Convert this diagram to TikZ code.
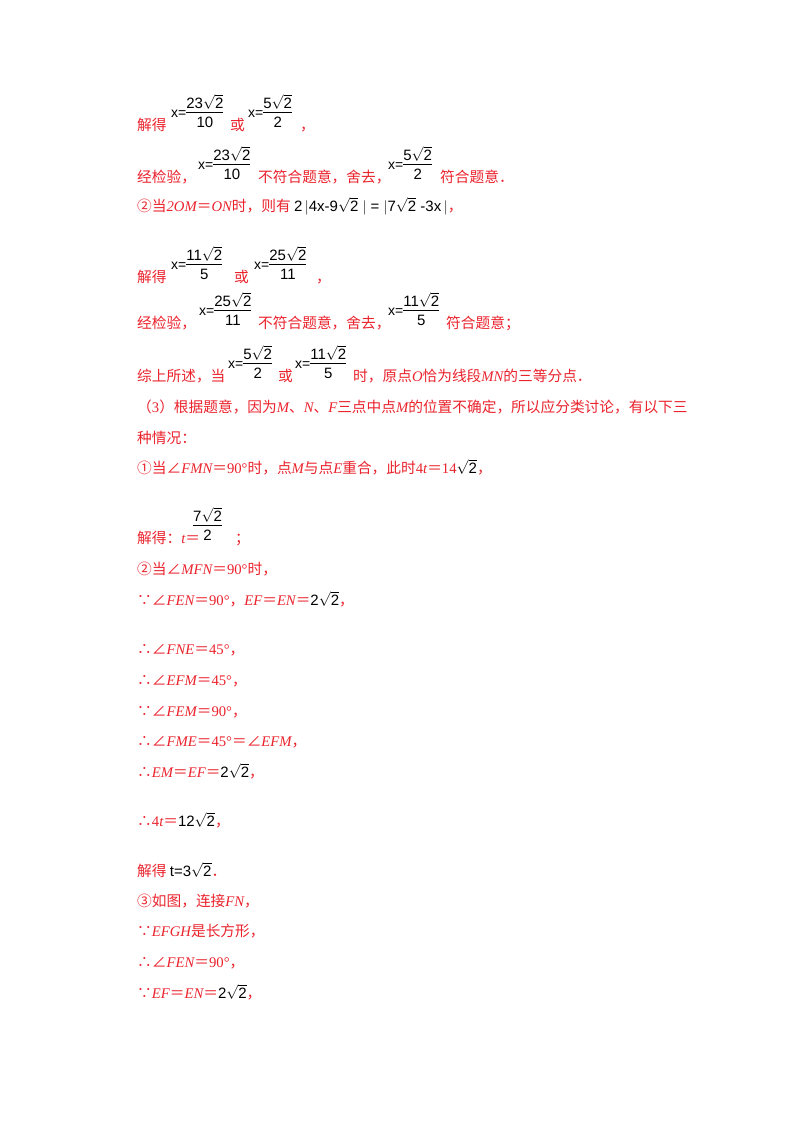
\documentclass[tikz,border=0pt]{standalone}
\usepackage{fontspec}
\setmainfont{Liberation Serif}
\newfontfamily\cjk{Noto Sans CJK SC}
\newfontfamily\mf{Liberation Sans}
\definecolor{rd}{RGB}{235,35,45}
\newcommand{\fr}[2]{$\vcenter{\hbox{\mf\fontsize{15}{17}\selectfont\begin{tabular}{@{}c@{}}#1\\[-1pt]\hline\rule{0pt}{15pt}#2\end{tabular}}}$}
\newcommand{\sq}{$\sqrt{\mbox{\mf 2}}$}
\newcommand{\X}{\mf x=}
\newcommand{\I}[1]{{\rmfamily\itshape #1}}
\newcommand{\N}[1]{{\rmfamily #1}}
\newcommand{\K}[1]{{\color{black}\mf\fontsize{15}{17}\selectfont #1}}
\begin{document}
\begin{tikzpicture}[x=1pt,y=-1pt,
  r/.style={anchor=base west,inner sep=0pt,text=rd,font=\cjk\fontsize{14.7}{17}\selectfont},
  f/.style={anchor=south west,inner sep=0pt,font=\mf\fontsize{14}{16}\selectfont},
  k/.style={anchor=base west,inner sep=0pt,font=\mf\fontsize{15}{17}\selectfont}]
\useasboundingbox (0,0) rectangle (800,1132);
\fill[white] (0,0) rectangle (800,1132);
% line 1
\node[r] (a1) at (137,130) {解得};
\node[f] (a2) at (171,133) {\X\fr{23\sq}{10}};
\node[r] (a3) at (230,130) {或};
\node[f] (a4) at (248,133) {\X\fr{5\sq}{2}};
\node[r] (a5) at (300,130) {，};
% line 2
\node[r] (b1) at (137,182) {经检验，};
\node[f] (b2) at (198,185) {\X\fr{23\sq}{10}};
\node[r] (b3) at (258,182) {不符合题意，舍去，};
\node[f] (b4) at (388,185) {\X\fr{5\sq}{2}};
\node[r] (b5) at (440,182) {符合题意．};
% line 3
\node[r] (c1) at (137,211) {②当\I{2OM}＝\I{ON}时，则有\ \K{2\,$|$4x-9\sq\ $|$ = $|$7\sq\ -3x\,$|$}，};
% line 4
\node[r] (d1) at (137,282) {解得};
\node[f] (d2) at (171,285) {\X\fr{11\sq}{5}};
\node[r] (d3) at (234,282) {或};
\node[f] (d4) at (254,285) {\X\fr{25\sq}{11}};
\node[r] (d5) at (316,282) {，};
% line 5
\node[r] (e1) at (137,328) {经检验，};
\node[f] (e2) at (199,331) {\X\fr{25\sq}{11}};
\node[r] (e3) at (258,328) {不符合题意，舍去，};
\node[f] (e4) at (388,331) {\X\fr{11\sq}{5}};
\node[r] (e5) at (446,328) {符合题意；};
% line 6
\node[r] (g1) at (137,381) {综上所述，当};
\node[f] (g2) at (228,384) {\X\fr{5\sq}{2}};
\node[r] (g3) at (278,381) {或};
\node[f] (g4) at (295,384) {\X\fr{11\sq}{5}};
\node[r] (g5) at (353,381) {时，原点\I{O}恰为线段\I{MN}的三等分点．};
% (3)
\node[r] (h1) at (137,412) {（\N{3}）根据题意，因为\I{M}、\I{N}、\I{F}三点中点\I{M}的位置不确定，所以应分类讨论，有以下三};
\node[r] (h2) at (137,443) {种情况：};
\node[r] (h3) at (137,473) {①当∠\I{FMN}＝\N{90°}时，点\I{M}与点\I{E}重合，此时\N{4}\I{t}＝\N{14}\K{\sq}，};
\node[r] (i1) at (137,543) {解得：\I{t}＝};
\node[f] (i2) at (193,546) {\fr{7\sq}{2}};
\node[r] (i3) at (235,543) {；};
\node[r] (j1) at (137,574) {②当∠\I{MFN}＝\N{90°}时，};
\node[r] (j2) at (137,605) {∵∠\I{FEN}＝\N{90°}，\I{EF}＝\I{EN}＝\K{2\sq}，};
\node[r] (l1) at (137,654) {∴∠\I{FNE}＝\N{45°}，};
\node[r] (l2) at (137,685) {∴∠\I{EFM}＝\N{45°}，};
\node[r] (l3) at (137,716) {∵∠\I{FEM}＝\N{90°}，};
\node[r] (l4) at (137,746) {∴∠\I{FME}＝\N{45°}＝∠\I{EFM}，};
\node[r] (l5) at (137,777) {∴\I{EM}＝\I{EF}＝\K{2\sq}，};
\node[r] (m1) at (137,826) {∴\N{4}\I{t}＝\K{12\sq}，};
\node[r] (n1) at (137,876) {解得\ \K{t=3\sq}．};
\node[r] (n4) at (137,906) {③如图，连接\I{FN}，};
\node[r] (n5) at (137,936) {∵\I{EFGH}是长方形，};
\node[r] (n6) at (137,967) {∴∠\I{FEN}＝\N{90°}，};
\node[r] (n7) at (137,998) {∵\I{EF}＝\I{EN}＝\K{2\sq}，};
\end{tikzpicture}
\end{document}
